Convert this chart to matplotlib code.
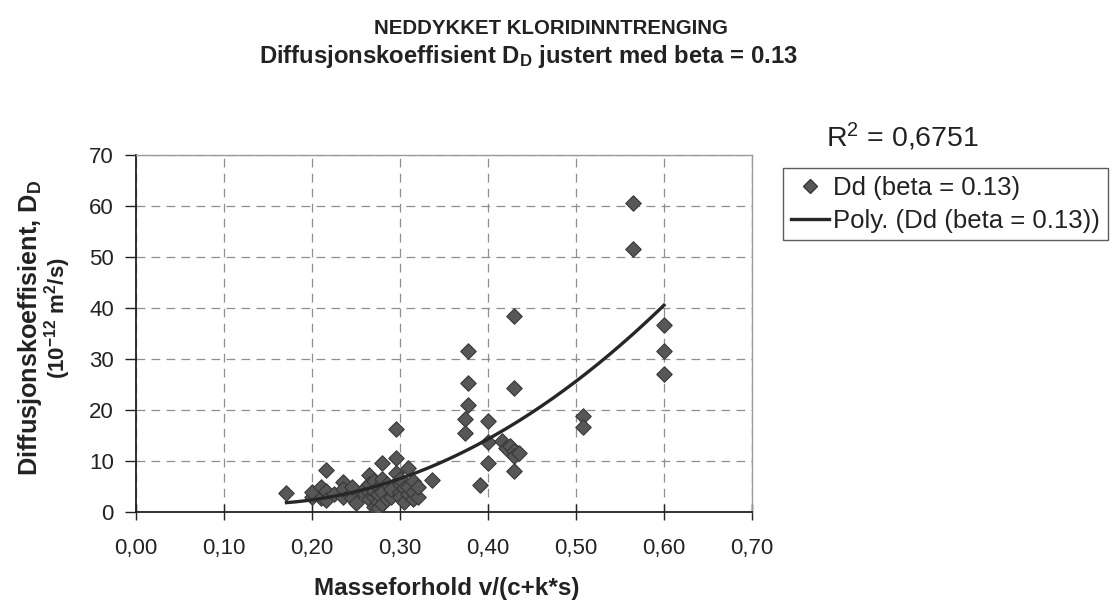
import numpy as np
import matplotlib
matplotlib.use("Agg")
import matplotlib.pyplot as plt
from matplotlib.lines import Line2D

plt.rcParams['font.family'] = ['Liberation Sans', 'DejaVu Sans']
plt.rcParams['mathtext.fontset'] = 'custom'
plt.rcParams['mathtext.rm'] = 'Liberation Sans'
plt.rcParams['mathtext.bf'] = 'Liberation Sans:bold'
plt.rcParams['mathtext.it'] = 'Liberation Sans:italic'

# ---- data ----
x_ratio = [0.171,
           0.200, 0.200, 0.210, 0.210, 0.216, 0.216, 0.216, 0.225,
           0.235, 0.235, 0.235, 0.245, 0.245, 0.245, 0.250,
           0.260, 0.260, 0.265, 0.265, 0.265,
           0.270, 0.270, 0.270, 0.270, 0.275, 0.275, 0.275, 0.275,
           0.280, 0.280, 0.280, 0.280, 0.285, 0.285, 0.290, 0.290,
           0.295, 0.295, 0.295,
           0.300, 0.300, 0.300, 0.300, 0.305, 0.305,
           0.309, 0.309, 0.309, 0.315, 0.315, 0.315, 0.320, 0.320, 0.336,
           0.374, 0.374, 0.377, 0.377, 0.377, 0.391,
           0.400, 0.400, 0.400,
           0.416, 0.420, 0.425, 0.430, 0.430, 0.435, 0.430, 0.430, 0.430,
           0.508, 0.508,
           0.565, 0.565,
           0.600, 0.600, 0.600]
dd_values = [3.8,
             3.0, 3.9, 2.8, 5.0, 8.2, 4.2, 2.4, 3.5,
             5.9, 3.0, 4.5, 3.9, 2.7, 5.0, 1.8,
             3.5, 4.8, 7.3, 2.5, 5.5,
             1.0, 3.0, 4.2, 6.0, 2.0, 5.0, 3.5, 0.8,
             9.6, 1.5, 4.0, 6.5, 2.5, 5.5, 3.0, 4.5,
             10.6, 7.6, 16.3,
             4.0, 5.5, 6.5, 3.0, 2.0, 4.8,
             8.6, 3.5, 5.0, 2.5, 4.0, 6.0, 3.0, 5.0, 6.3,
             18.2, 15.5, 31.6, 25.3, 21.0, 5.3,
             17.8, 13.7, 9.6,
             14.0, 12.5, 13.0, 12.0, 11.0, 11.5, 24.3, 38.4, 8.0,
             18.8, 16.7,
             60.5, 51.6,
             36.7, 31.5, 27.0]

x_ticks = [0.0, 0.1, 0.2, 0.3, 0.4, 0.5, 0.6, 0.7]
x_tick_labels = ['0,00', '0,10', '0,20', '0,30', '0,40', '0,50', '0,60', '0,70']
y_ticks = [0, 10, 20, 30, 40, 50, 60, 70]

series_label = 'Dd (beta = 0.13)'
trend_label = 'Poly. (Dd (beta = 0.13))'
r2_text = 'R$^{2}$ = 0,6751'

# ---- figure ----
fig = plt.figure(figsize=(11.14, 6.06), dpi=100)
ax = fig.add_axes([136/1114, 1-512/606, (752-136)/1114, (512-155)/606])

marker_col = '#575757'
ax.scatter(x_ratio, dd_values, marker='D', s=62, color=marker_col,
           edgecolors='#383838', linewidths=0.8, zorder=3)

# polynomial (2nd order) trend line fitted to the data
coef = np.polyfit(x_ratio, dd_values, 2)
xs = np.linspace(min(x_ratio), max(x_ratio), 200)
ax.plot(xs, np.polyval(coef, xs), color='#262626', lw=2.4, zorder=4)

ax.set_xlim(0, 0.7)
ax.set_ylim(0, 70)
ax.set_xticks(x_ticks)
ax.set_xticklabels(x_tick_labels)
ax.set_yticks(y_ticks)
ax.tick_params(axis='x', direction='inout', length=12, width=1, labelsize=16,
               pad=13, colors='#222222')
ax.tick_params(axis='y', direction='out', length=8, width=1, labelsize=16,
               pad=8, colors='#222222')
ax.grid(True, color='#8f8f8f', linestyle=(0, (7, 5)), linewidth=0.9)
ax.set_axisbelow(True)
for s in ['left', 'bottom']:
    ax.spines[s].set_color('#222222')
    ax.spines[s].set_linewidth(1.3)
for s in ['top', 'right']:
    ax.spines[s].set_color('#9a9a9a')
    ax.spines[s].set_linewidth(1.0)

# titles
fig.text(551/1114, 1-28/606, 'NEDDYKKET KLORIDINNTRENGING', ha='center', va='center',
         fontsize=14.7, fontweight='bold', color='#222222')
fig.text(528/1114, 1-56/606, r'Diffusjonskoeffisient D$_{\mathbf{D}}$ justert med beta = 0.13',
         ha='center', va='center', fontsize=17.2, fontweight='bold', color='#222222')

# axis labels
fig.text(447/1114, 1-588/606, 'Masseforhold v/(c+k*s)', ha='center', va='center',
         fontsize=17.5, fontweight='bold', color='#222222')
fig.text(30/1114, 1-328/606, r'Diffusjonskoeffisient, D$_{\mathbf{D}}$', ha='center',
         va='center', rotation=90, fontsize=18.2, fontweight='bold', color='#222222')
fig.text(58/1114, 1-318/606, r'(10$^{\mathbf{-12}}$ m$^{\mathbf{2}}$/s)', ha='center',
         va='center', rotation=90, fontsize=16, fontweight='bold', color='#222222')

# R^2
fig.text(826/1114, 1-137/606, r2_text, ha='left', va='center', fontsize=20.5,
         color='#222222')

# legend
handles = [Line2D([], [], marker='D', linestyle='none', markersize=7,
                  markerfacecolor=marker_col, markeredgecolor='#383838'),
           Line2D([], [], color='#262626', lw=2.4)]
leg = fig.legend(handles, [series_label, trend_label], loc='upper left',
                 bbox_to_anchor=(783/1114, 1-168/606), fontsize=18.5,
                 frameon=True, fancybox=False, edgecolor='#333333',
                 handlelength=1.5, handletextpad=0.15, borderpad=0.3,
                 labelspacing=0.35, borderaxespad=0)
leg.get_frame().set_linewidth(1.0)
for t in leg.get_texts():
    t.set_color('#222222')

fig.savefig('out.png', dpi=100)
